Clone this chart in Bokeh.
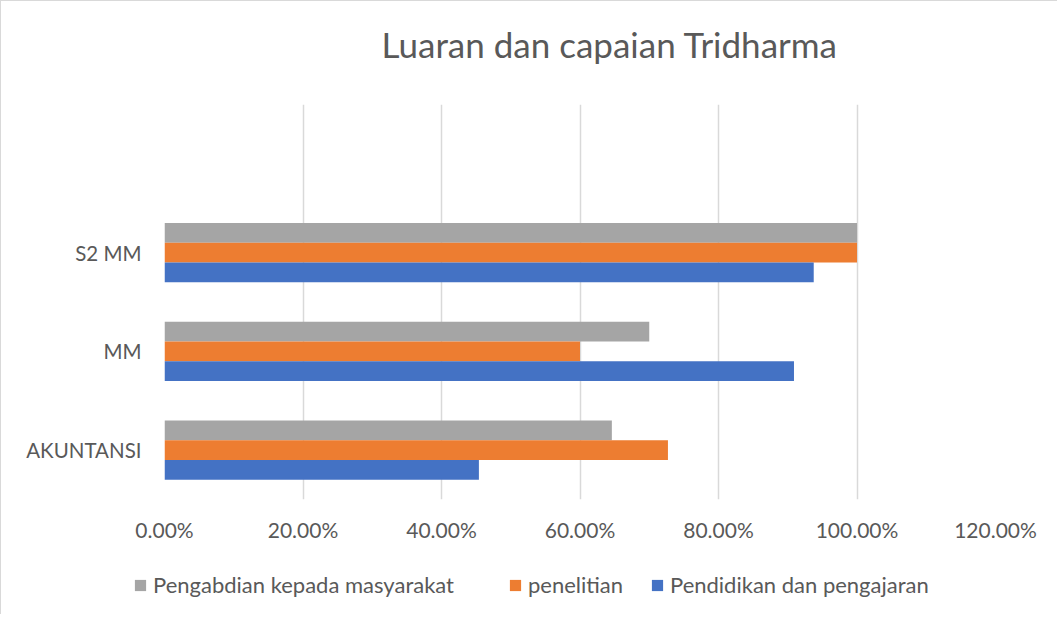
from bokeh.plotting import figure
from bokeh.layouts import column
from bokeh.models import (FactorRange, Range1d, NumeralTickFormatter, FixedTicker,
                          Legend, LegendItem, Label, ColumnDataSource)
from bokeh.transform import dodge
from bokeh.embed import file_html
from bokeh.resources import INLINE

categories = ["AKUNTANSI", "MM", "S2 MM"]
pengabdian = [0.646, 0.700, 1.000]
penelitian = [0.727, 0.600, 1.000]
pendidikan = [0.454, 0.909, 0.9375]
series_names = ["Pengabdian kepada masyarakat", "penelitian", "Pendidikan dan pengajaran"]
series_colors = ["#A5A5A5", "#ED7D31", "#4472C4"]
x_ticks = [0.0, 0.2, 0.4, 0.6, 0.8, 1.0, 1.2]
title_text = "Luaran dan capaian Tridharma"

FONT = "Lato"
TXT = "#595959"
W = 1056

factors = categories + [" "]
source = ColumnDataSource(dict(cat=categories, peng=pengabdian, pen=penelitian, pend=pendidikan))
cols = ["peng", "pen", "pend"]
offsets = [0.2, 0.0, -0.2]


def blank(height):
    f = figure(width=W, height=height, x_axis_type=None, y_axis_type=None,
               x_range=Range1d(0, 1.2), y_range=FactorRange(factors=factors),
               output_backend="svg", toolbar_location=None, min_border=0,
               frame_align=False)
    f.outline_line_color = None
    f.grid.grid_line_color = None
    return f


# ---- title strip
pt = blank(80)
pt.add_layout(Label(x=380, y=38, x_units="screen", y_units="screen", text=title_text,
                    text_font=FONT, text_font_size="35px", text_color=TXT,
                    text_baseline="alphabetic", text_align="left"))

# ---- main chart
p = figure(width=W, height=475, y_range=FactorRange(factors=factors),
           x_range=Range1d(0, 1.2), output_backend="svg", toolbar_location=None,
           min_border_left=163, min_border_right=62, min_border_top=23,
           min_border_bottom=57)
p.outline_line_color = None

for col, off, color in zip(cols, offsets, series_colors):
    p.hbar(y=dodge("cat", off, range=p.y_range), right=col, left=0, height=0.2,
           source=source, fill_color=color, line_color=None)

p.xaxis.ticker = FixedTicker(ticks=x_ticks)
p.xaxis.formatter = NumeralTickFormatter(format="0.00%")
p.xaxis.axis_line_color = None
p.xaxis.major_tick_line_color = None
p.xaxis.minor_tick_line_color = None
p.xaxis.major_label_standoff = 11
p.xaxis.major_label_text_font = FONT
p.xaxis.major_label_text_font_size = "21px"
p.xaxis.major_label_text_color = TXT

p.yaxis.axis_line_color = None
p.yaxis.major_tick_line_color = None
p.yaxis.major_label_standoff = 17
p.yaxis.major_label_text_font = FONT
p.yaxis.major_label_text_font_size = "20.5px"
p.yaxis.major_label_text_color = TXT

p.xgrid.ticker = FixedTicker(ticks=x_ticks)
p.xgrid.grid_line_color = "#D9D9D9"
p.xgrid.grid_line_width = 1.5
p.ygrid.grid_line_color = None

# ---- legend strip (hidden copies of the series feed the legend swatches)
pl = blank(58)
legend_x = [132, 507, 649]
for name, col, off, color, lx in zip(series_names, cols, offsets, series_colors, legend_x):
    r = pl.hbar(y=dodge("cat", off, range=pl.y_range), right=col, left=0, height=0.2,
                source=source, fill_color=color, line_color=None, visible=False)
    leg = Legend(items=[LegendItem(label=name, renderers=[r])], location=(lx, 16),
                 orientation="horizontal", glyph_width=14, glyph_height=14,
                 label_standoff=6, padding=0, margin=0, border_line_color=None,
                 background_fill_alpha=0, label_text_font=FONT,
                 label_text_font_size="22px", label_text_color=TXT,
                 inactive_fill_alpha=0)
    pl.add_layout(leg, "center")

layout = column(pt, p, pl, spacing=0,
                styles={"border-left": "1px solid #D9D9D9", "border-top": "1px solid #D9D9D9"})

open("out.html", "w").write(file_html(layout, INLINE))
